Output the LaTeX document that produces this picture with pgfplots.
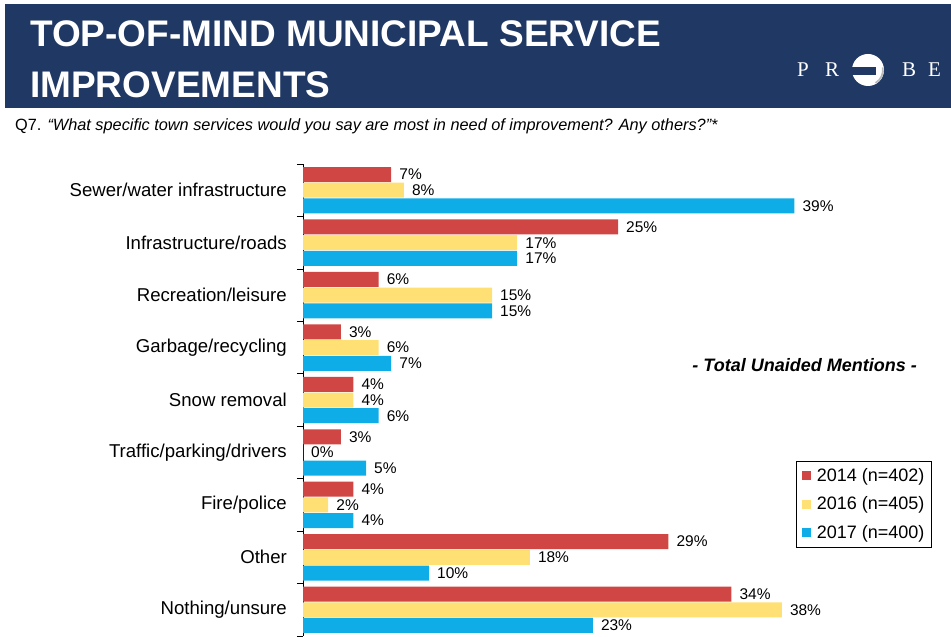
\documentclass[border=0pt]{standalone}
\usepackage{fontspec}
\setmainfont{Liberation Sans}
\newfontfamily\logofont{Liberation Serif}
\usepackage{pgfplots}
\pgfplotsset{compat=1.18}
\definecolor{navy}{HTML}{203864}
\definecolor{c14}{HTML}{CF4644}
\definecolor{c16}{HTML}{FFE074}
\definecolor{c17}{HTML}{0EADE8}

\begin{document}
\begin{tikzpicture}
\useasboundingbox (0,0) rectangle (951pt,637pt);
% header band
\fill[navy] (5pt,529pt) rectangle (951pt,633pt);
\node[anchor=base west, inner sep=0, text=white, font=\fontsize{37}{37}\selectfont\bfseries] at (30pt,590pt) {TOP-OF-MIND MUNICIPAL SERVICE};
\node[anchor=base west, inner sep=0, text=white, font=\fontsize{37}{37}\selectfont\bfseries] at (30pt,539pt) {IMPROVEMENTS};
% logo
\foreach \l/\x in {P/797,R/825,B/902,E/928}
  \node[anchor=base west, inner sep=0, text=white, font=\logofont\fontsize{21}{21}\selectfont] at (\x pt,560pt) {\l};
\fill[white] (868pt,567pt) circle (16pt);
\fill[navy] (851pt,562pt) rectangle (876pt,570pt);
\draw[gray!55, line width=1.8pt] (875.5pt,554pt) arc (-60:10:15pt);
% question
\node[anchor=base west, inner sep=0, font=\fontsize{16.3}{16}\selectfont] at (15pt,506pt)
  {Q7. \textit{“What specific town services would you say are most in need of improvement? Any others?”*}};

\begin{axis}[
  at={(303pt,1pt)}, anchor=south west,
  scale only axis, width=630pt, height=472pt,
  xmin=0, xmax=50, ymin=-0.5, ymax=8.5,
  y dir=reverse,
  xbar, bar width=15pt,
  axis x line=none, axis y line*=left,
  y axis line style={black, line width=1pt},
  ytick={0,...,8},
  yticklabels={Sewer/water infrastructure, Infrastructure/roads, Recreation/leisure, Garbage/recycling, Snow removal, Traffic/parking/drivers, Fire/police, Other, Nothing/unsure},
  major tick length=0pt,
  minor ytick={-0.5,0.5,...,8.5},
  minor tick length=6pt,
  tick align=outside,
  minor tick style={black, line width=0.8pt},
  yticklabel style={font=\fontsize{18.6}{18}\selectfont, inner sep=0pt},
  yticklabel shift=16pt,
  /pgf/number format/assume math mode=true,
  nodes near coords={\pgfmathprintnumber{\pgfplotspointmeta}\%},
  nodes near coords align={horizontal},
  every node near coord/.append style={font=\fontsize{15.5}{15.5}\selectfont, inner sep=0pt, xshift=8pt, text=black},
  legend style={at={(0.998,0.371)}, anchor=north east, draw=black, line width=0.8pt,
    font=\fontsize{18}{18}\selectfont, row sep=10pt, inner xsep=5pt, inner ysep=5pt},
  legend cell align=left,
  legend image code/.code={\fill[#1] (0pt,-4.5pt) rectangle (9pt,4.5pt);},
]
\addplot[fill=c14, draw=none, bar shift=15.7pt] coordinates {(7,0) (25,1) (6,2) (3,3) (4,4) (3,5) (4,6) (29,7) (34,8)};
\addplot[fill=c16, draw=none, bar shift=0pt] coordinates {(8,0) (17,1) (15,2) (6,3) (4,4) (0,5) (2,6) (18,7) (38,8)};
\addplot[fill=c17, draw=none, bar shift=-15.7pt] coordinates {(39,0) (17,1) (15,2) (7,3) (6,4) (5,5) (4,6) (10,7) (23,8)};
\legend{\hspace{4pt}2014 (n=402), \hspace{4pt}2016 (n=405), \hspace{4pt}2017 (n=400)}
\end{axis}

\node[anchor=base east, inner sep=0, font=\fontsize{18}{18}\selectfont\bfseries\itshape] at (917pt,265pt) {- Total Unaided Mentions -};
\end{tikzpicture}
\end{document}
